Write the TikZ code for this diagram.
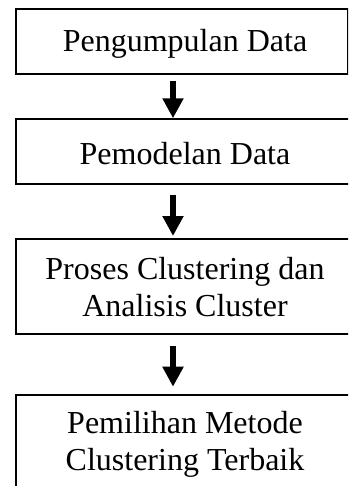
\documentclass[tikz,border=0pt]{standalone}
\usepackage{fontspec}
\setmainfont{Liberation Serif}
\usetikzlibrary{arrows.meta}
\begin{document}
\begin{tikzpicture}[x=1pt, y=-1pt,
  stepbox/.style={draw, line width=2pt, rectangle, anchor=north west, inner sep=0pt},
  txt/.style={font=\fontsize{32pt}{37pt}\selectfont, align=center, inner sep=0pt},
  arr/.style={line width=6pt, -{Triangle[width=20pt,length=20pt]}}
]
\useasboundingbox (0,0) rectangle (348,486);
\clip (0,0) rectangle (348,486);

% boxes (the lower ones run off the right edge)
\node[stepbox, minimum width=332pt, minimum height=64.7pt] (b1) at (14.5,8) {};
\node[stepbox, minimum width=350pt, minimum height=64.4pt] (b2) at (14.5,118.3) {};
\node[stepbox, minimum width=350pt, minimum height=95pt] (b3) at (14.5,238) {};
\node[stepbox, minimum width=350pt, minimum height=100pt] (b4) at (14.5,393.5) {};

% labels
\node[txt, anchor=base] (t1) at (185,52) {Pengumpulan Data};
\node[txt, anchor=base] (t2) at (185,165) {Pemodelan Data};
\node[txt] (t3) at (185,287.5) {Proses Clustering dan\\Analisis Cluster};
\node[txt] (t4) at (185,444) {Pemilihan Metode\\Clustering Terbaik};

% arrows
\coordinate (ax) at (173,0);
\draw[arr, shorten <=6.3pt] (b1.south -| ax) -- (b2.north -| ax);
\draw[arr, shorten <=10.6pt, shorten >=2pt] (b2.south -| ax) -- (b3.north -| ax);
\draw[arr, shorten <=11.3pt, shorten >=6.8pt] (b3.south -| ax) -- (b4.north -| ax);
\end{tikzpicture}
\end{document}
